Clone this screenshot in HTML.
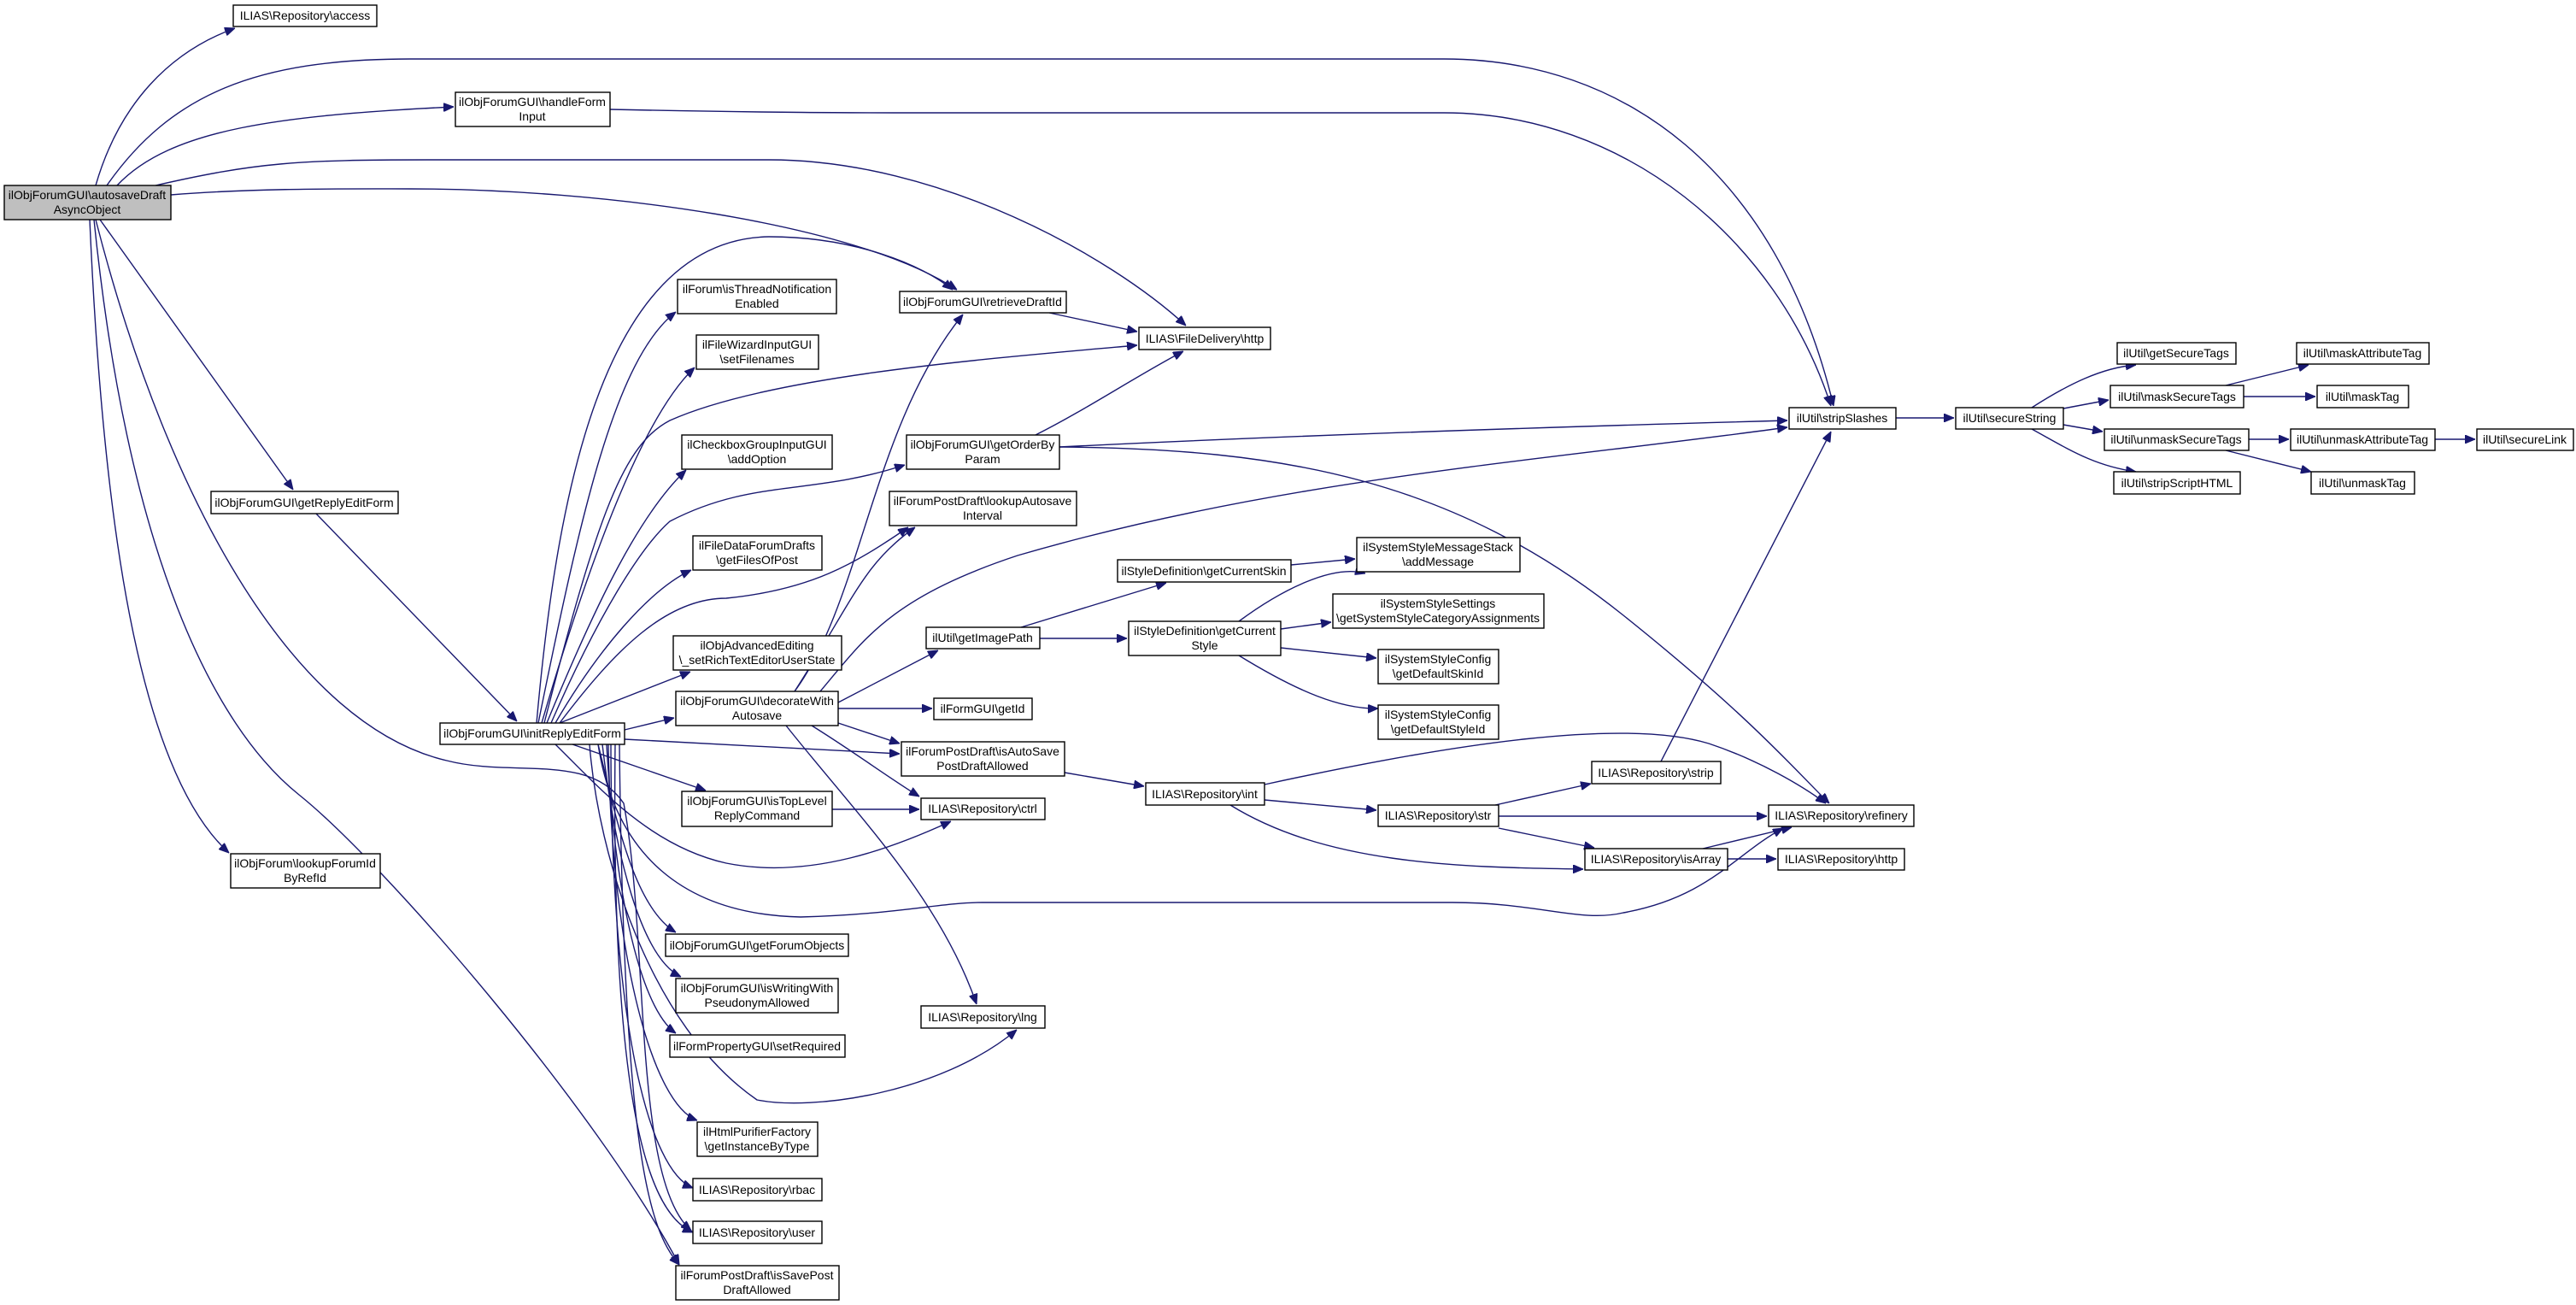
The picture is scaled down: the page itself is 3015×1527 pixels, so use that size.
<!DOCTYPE html>
<html><head><meta charset="utf-8"><style>
html,body{margin:0;padding:0;background:#fff;}
svg{display:block;}
text{font-family:"Liberation Sans",Arial,sans-serif;font-size:14px;fill:#000;}
.n{fill:#fff;stroke:#000;stroke-width:1.4;}
.e{fill:none;stroke:#191970;stroke-width:1.4;}
</style></head><body>
<svg width="3015" height="1527" viewBox="0 0 3015 1527" xmlns="http://www.w3.org/2000/svg">
<defs><marker id="a" viewBox="0 0 12 10" refX="12" refY="5" markerWidth="12" markerHeight="10" markerUnits="userSpaceOnUse" orient="auto"><path d="M0,0 L12,5 L0,10 z" fill="#191970" stroke="#191970"/></marker></defs>
<g class="edges">
<path class="e" marker-end="url(#a)" d="M112,217 C140,120 200,60 275,33"/>
<path class="e" marker-end="url(#a)" d="M125,217 C200,110 300,69 480,69 L1690,69 C1900,69 2080,200 2146,475"/>
<path class="e" marker-end="url(#a)" d="M137,217 C200,150 330,135 531,125"/>
<path class="e" marker-end="url(#a)" d="M182,217 C300,190 350,187 500,187 L900,187 C1100,187 1300,300 1388,381"/>
<path class="e" marker-end="url(#a)" d="M200,228 C300,220 400,221 480,221 C700,221 1000,260 1120,339"/>
<path class="e" marker-end="url(#a)" d="M117,257 L343,573"/>
<path class="e" marker-end="url(#a)" d="M105,257 C120,600 160,900 268,998"/>
<path class="e" marker-end="url(#a)" d="M110,257 C150,650 250,850 350,930 C450,1010 700,1300 795,1480"/>
<path class="e" marker-end="url(#a)" d="M112,257 C200,600 350,850 523,890 C600,910 690,880 730,940 C760,1100 740,1380 809,1440"/>
<path class="e" marker-end="url(#a)" d="M628,846 C650,600 700,280 900,277 C1000,277 1080,310 1115,339"/>
<path class="e" marker-end="url(#a)" d="M630,846 C680,600 720,420 791,365"/>
<path class="e" marker-end="url(#a)" d="M634,846 C700,620 760,480 813,430"/>
<path class="e" marker-end="url(#a)" d="M637,846 C700,600 730,520 784,492 C900,440 1150,420 1331,404"/>
<path class="e" marker-end="url(#a)" d="M640,846 C700,700 750,600 803,550"/>
<path class="e" marker-end="url(#a)" d="M645,846 C700,720 750,640 784,610 C880,560 950,580 1059,544"/>
<path class="e" marker-end="url(#a)" d="M650,846 C700,760 760,690 809,667"/>
<path class="e" marker-end="url(#a)" d="M655,846 C720,760 780,700 850,700 C950,690 1000,660 1063,617"/>
<path class="e" marker-end="url(#a)" d="M655,846 L808,786"/>
<path class="e" marker-end="url(#a)" d="M731,854 L789,840"/>
<path class="e" marker-end="url(#a)" d="M731,865 L1053,882"/>
<path class="e" marker-end="url(#a)" d="M670,871 L826,925"/>
<path class="e" marker-end="url(#a)" d="M650,871 C700,920 760,990 850,1010 C950,1030 1050,990 1113,961"/>
<path class="e" marker-end="url(#a)" d="M690,871 C700,1000 760,1200 886,1287 C950,1300 1100,1280 1190,1205"/>
<path class="e" marker-end="url(#a)" d="M700,871 C720,1000 800,1070 937,1073 C1050,1070 1100,1056 1150,1056 L1700,1056 C1800,1056 1850,1080 1900,1068 C2000,1050 2030,1000 2087,969"/>
<path class="e" marker-end="url(#a)" d="M700,871 C720,950 740,1060 791,1091"/>
<path class="e" marker-end="url(#a)" d="M705,871 C720,1000 750,1120 797,1143"/>
<path class="e" marker-end="url(#a)" d="M710,871 C720,1050 750,1180 791,1209"/>
<path class="e" marker-end="url(#a)" d="M712,871 C715,1100 760,1290 816,1311"/>
<path class="e" marker-end="url(#a)" d="M715,871 C715,1200 760,1370 811,1390"/>
<path class="e" marker-end="url(#a)" d="M720,871 C715,1300 760,1420 811,1442"/>
<path class="e" marker-end="url(#a)" d="M725,871 C730,1350 760,1440 795,1480"/>
<path class="e" marker-end="url(#a)" d="M370,601 L605,844"/>
<path class="e" marker-end="url(#a)" d="M1228,366 L1331,388"/>
<path class="e" marker-end="url(#a)" d="M1212,509 C1270,480 1330,440 1385,411"/>
<path class="e" marker-end="url(#a)" d="M1240,523 C1500,510 1800,500 2092,492"/>
<path class="e" marker-end="url(#a)" d="M1240,523 C1500,525 1700,560 1900,720 C2050,840 2100,900 2141,940"/>
<path class="e" marker-end="url(#a)" d="M714,128 C900,132 1000,132 1100,132 L1690,132 C1900,132 2080,280 2143,475"/>
<path class="e" marker-end="url(#a)" d="M930,809 C1010,700 1020,500 1127,368"/>
<path class="e" marker-end="url(#a)" d="M930,809 C1000,700 1010,660 1071,617"/>
<path class="e" marker-end="url(#a)" d="M960,809 C1010,750 1040,700 1191,650 C1500,560 1800,540 2092,500"/>
<path class="e" marker-end="url(#a)" d="M981,822 L1098,761"/>
<path class="e" marker-end="url(#a)" d="M981,829 L1091,829"/>
<path class="e" marker-end="url(#a)" d="M981,846 L1053,870"/>
<path class="e" marker-end="url(#a)" d="M950,849 C1000,880 1040,910 1076,932"/>
<path class="e" marker-end="url(#a)" d="M920,849 C1000,950 1100,1050 1143,1175"/>
<path class="e" marker-end="url(#a)" d="M1195,734 L1365,682"/>
<path class="e" marker-end="url(#a)" d="M1217,747 L1319,747"/>
<path class="e" marker-end="url(#a)" d="M1511,661 L1586,654"/>
<path class="e" marker-end="url(#a)" d="M1450,727 C1500,690 1560,660 1598,671"/>
<path class="e" marker-end="url(#a)" d="M1499,736 L1558,728"/>
<path class="e" marker-end="url(#a)" d="M1499,758 L1611,770"/>
<path class="e" marker-end="url(#a)" d="M1450,767 C1520,810 1570,830 1613,829"/>
<path class="e" marker-end="url(#a)" d="M1246,904 L1339,920"/>
<path class="e" marker-end="url(#a)" d="M1480,918 C1700,870 1900,840 2000,870 C2060,890 2110,920 2137,940"/>
<path class="e" marker-end="url(#a)" d="M1480,936 L1611,948"/>
<path class="e" marker-end="url(#a)" d="M1440,942 C1550,1010 1700,1015 1853,1017"/>
<path class="e" marker-end="url(#a)" d="M1750,942 L1862,917"/>
<path class="e" marker-end="url(#a)" d="M1754,955 L2068,955"/>
<path class="e" marker-end="url(#a)" d="M1754,969 L1866,992"/>
<path class="e" marker-end="url(#a)" d="M1944,891 L2143,505"/>
<path class="e" marker-end="url(#a)" d="M1993,993 L2097,968"/>
<path class="e" marker-end="url(#a)" d="M2022,1005 L2079,1005"/>
<path class="e" marker-end="url(#a)" d="M974,947 L1076,947"/>
<path class="e" marker-end="url(#a)" d="M2219,489 L2287,489"/>
<path class="e" marker-end="url(#a)" d="M2378,477 C2420,450 2460,430 2500,427"/>
<path class="e" marker-end="url(#a)" d="M2415,478 L2468,468"/>
<path class="e" marker-end="url(#a)" d="M2415,497 L2461,505"/>
<path class="e" marker-end="url(#a)" d="M2378,502 C2420,525 2450,545 2500,552"/>
<path class="e" marker-end="url(#a)" d="M2605,451 L2702,427"/>
<path class="e" marker-end="url(#a)" d="M2626,464 L2710,464"/>
<path class="e" marker-end="url(#a)" d="M2632,514 L2679,514"/>
<path class="e" marker-end="url(#a)" d="M2850,514 L2897,514"/>
<path class="e" marker-end="url(#a)" d="M2605,527 L2705,552"/>
</g>
<g class="nodes" text-anchor="middle">
<rect class="n" x="5" y="217" width="195" height="40" style="fill:#bfbfbf"/><text x="102" y="233">ilObjForumGUI\autosaveDraft</text><text x="102" y="250">AsyncObject</text>
<rect class="n" x="273" y="6" width="168" height="25"/><text x="357" y="23">ILIAS\Repository\access</text>
<rect class="n" x="533" y="108" width="181" height="40"/><text x="623" y="124">ilObjForumGUI\handleForm</text><text x="623" y="141">Input</text>
<rect class="n" x="247" y="575" width="219" height="26"/><text x="356" y="593">ilObjForumGUI\getReplyEditForm</text>
<rect class="n" x="270" y="999" width="175" height="40"/><text x="357" y="1015">ilObjForum\lookupForumId</text><text x="357" y="1032">ByRefId</text>
<rect class="n" x="515" y="846" width="216" height="25"/><text x="623" y="863">ilObjForumGUI\initReplyEditForm</text>
<rect class="n" x="793" y="327" width="186" height="40"/><text x="886" y="343">ilForum\isThreadNotification</text><text x="886" y="360">Enabled</text>
<rect class="n" x="815" y="392" width="143" height="40"/><text x="886" y="408">ilFileWizardInputGUI</text><text x="886" y="425">\setFilenames</text>
<rect class="n" x="798" y="509" width="176" height="40"/><text x="886" y="525">ilCheckboxGroupInputGUI</text><text x="886" y="542">\addOption</text>
<rect class="n" x="811" y="627" width="151" height="40"/><text x="886" y="643">ilFileDataForumDrafts</text><text x="886" y="660">\getFilesOfPost</text>
<rect class="n" x="788" y="744" width="197" height="40"/><text x="886" y="760">ilObjAdvancedEditing</text><text x="886" y="777">\_setRichTextEditorUserState</text>
<rect class="n" x="791" y="809" width="190" height="40"/><text x="886" y="825">ilObjForumGUI\decorateWith</text><text x="886" y="842">Autosave</text>
<rect class="n" x="798" y="926" width="176" height="41"/><text x="886" y="942">ilObjForumGUI\isTopLevel</text><text x="886" y="959">ReplyCommand</text>
<rect class="n" x="779" y="1093" width="214" height="26"/><text x="886" y="1111">ilObjForumGUI\getForumObjects</text>
<rect class="n" x="791" y="1145" width="190" height="40"/><text x="886" y="1161">ilObjForumGUI\isWritingWith</text><text x="886" y="1178">PseudonymAllowed</text>
<rect class="n" x="784" y="1211" width="205" height="26"/><text x="886" y="1229">ilFormPropertyGUI\setRequired</text>
<rect class="n" x="816" y="1313" width="141" height="40"/><text x="886" y="1329">ilHtmlPurifierFactory</text><text x="886" y="1346">\getInstanceByType</text>
<rect class="n" x="811" y="1379" width="151" height="26"/><text x="886" y="1397">ILIAS\Repository\rbac</text>
<rect class="n" x="811" y="1429" width="151" height="26"/><text x="886" y="1447">ILIAS\Repository\user</text>
<rect class="n" x="791" y="1481" width="191" height="40"/><text x="886" y="1497">ilForumPostDraft\isSavePost</text><text x="886" y="1514">DraftAllowed</text>
<rect class="n" x="1053" y="341" width="195" height="25"/><text x="1150" y="358">ilObjForumGUI\retrieveDraftId</text>
<rect class="n" x="1333" y="383" width="154" height="26"/><text x="1410" y="401">ILIAS\FileDelivery\http</text>
<rect class="n" x="1061" y="509" width="179" height="40"/><text x="1150" y="525">ilObjForumGUI\getOrderBy</text><text x="1150" y="542">Param</text>
<rect class="n" x="1041" y="575" width="219" height="40"/><text x="1150" y="591">ilForumPostDraft\lookupAutosave</text><text x="1150" y="608">Interval</text>
<rect class="n" x="1308" y="655" width="203" height="26"/><text x="1409" y="673">ilStyleDefinition\getCurrentSkin</text>
<rect class="n" x="1588" y="629" width="191" height="40"/><text x="1683" y="645">ilSystemStyleMessageStack</text><text x="1683" y="662">\addMessage</text>
<rect class="n" x="1084" y="734" width="133" height="25"/><text x="1150" y="751">ilUtil\getImagePath</text>
<rect class="n" x="1321" y="727" width="178" height="40"/><text x="1410" y="743">ilStyleDefinition\getCurrent</text><text x="1410" y="760">Style</text>
<rect class="n" x="1560" y="695" width="247" height="40"/><text x="1683" y="711">ilSystemStyleSettings</text><text x="1683" y="728">\getSystemStyleCategoryAssignments</text>
<rect class="n" x="1613" y="760" width="141" height="40"/><text x="1683" y="776">ilSystemStyleConfig</text><text x="1683" y="793">\getDefaultSkinId</text>
<rect class="n" x="1613" y="825" width="141" height="40"/><text x="1683" y="841">ilSystemStyleConfig</text><text x="1683" y="858">\getDefaultStyleId</text>
<rect class="n" x="1093" y="817" width="115" height="25"/><text x="1150" y="834">ilFormGUI\getId</text>
<rect class="n" x="1055" y="868" width="191" height="40"/><text x="1150" y="884">ilForumPostDraft\isAutoSave</text><text x="1150" y="901">PostDraftAllowed</text>
<rect class="n" x="1341" y="916" width="139" height="26"/><text x="1410" y="934">ILIAS\Repository\int</text>
<rect class="n" x="1078" y="934" width="145" height="25"/><text x="1150" y="951">ILIAS\Repository\ctrl</text>
<rect class="n" x="1613" y="942" width="141" height="25"/><text x="1683" y="959">ILIAS\Repository\str</text>
<rect class="n" x="1863" y="891" width="151" height="26"/><text x="1938" y="909">ILIAS\Repository\strip</text>
<rect class="n" x="1855" y="993" width="167" height="25"/><text x="1938" y="1010">ILIAS\Repository\isArray</text>
<rect class="n" x="2070" y="942" width="170" height="25"/><text x="2155" y="959">ILIAS\Repository\refinery</text>
<rect class="n" x="2081" y="993" width="148" height="25"/><text x="2155" y="1010">ILIAS\Repository\http</text>
<rect class="n" x="1078" y="1177" width="145" height="26"/><text x="1150" y="1195">ILIAS\Repository\lng</text>
<rect class="n" x="2094" y="477" width="125" height="25"/><text x="2156" y="494">ilUtil\stripSlashes</text>
<rect class="n" x="2289" y="477" width="126" height="25"/><text x="2352" y="494">ilUtil\secureString</text>
<rect class="n" x="2478" y="401" width="139" height="25"/><text x="2547" y="418">ilUtil\getSecureTags</text>
<rect class="n" x="2470" y="451" width="156" height="26"/><text x="2548" y="469">ilUtil\maskSecureTags</text>
<rect class="n" x="2688" y="401" width="155" height="25"/><text x="2765" y="418">ilUtil\maskAttributeTag</text>
<rect class="n" x="2712" y="451" width="107" height="26"/><text x="2765" y="469">ilUtil\maskTag</text>
<rect class="n" x="2463" y="502" width="169" height="25"/><text x="2547" y="519">ilUtil\unmaskSecureTags</text>
<rect class="n" x="2681" y="502" width="169" height="25"/><text x="2765" y="519">ilUtil\unmaskAttributeTag</text>
<rect class="n" x="2899" y="502" width="113" height="25"/><text x="2955" y="519">ilUtil\secureLink</text>
<rect class="n" x="2474" y="552" width="148" height="26"/><text x="2548" y="570">ilUtil\stripScriptHTML</text>
<rect class="n" x="2705" y="552" width="121" height="26"/><text x="2765" y="570">ilUtil\unmaskTag</text>
</g>
</svg>
</body></html>
